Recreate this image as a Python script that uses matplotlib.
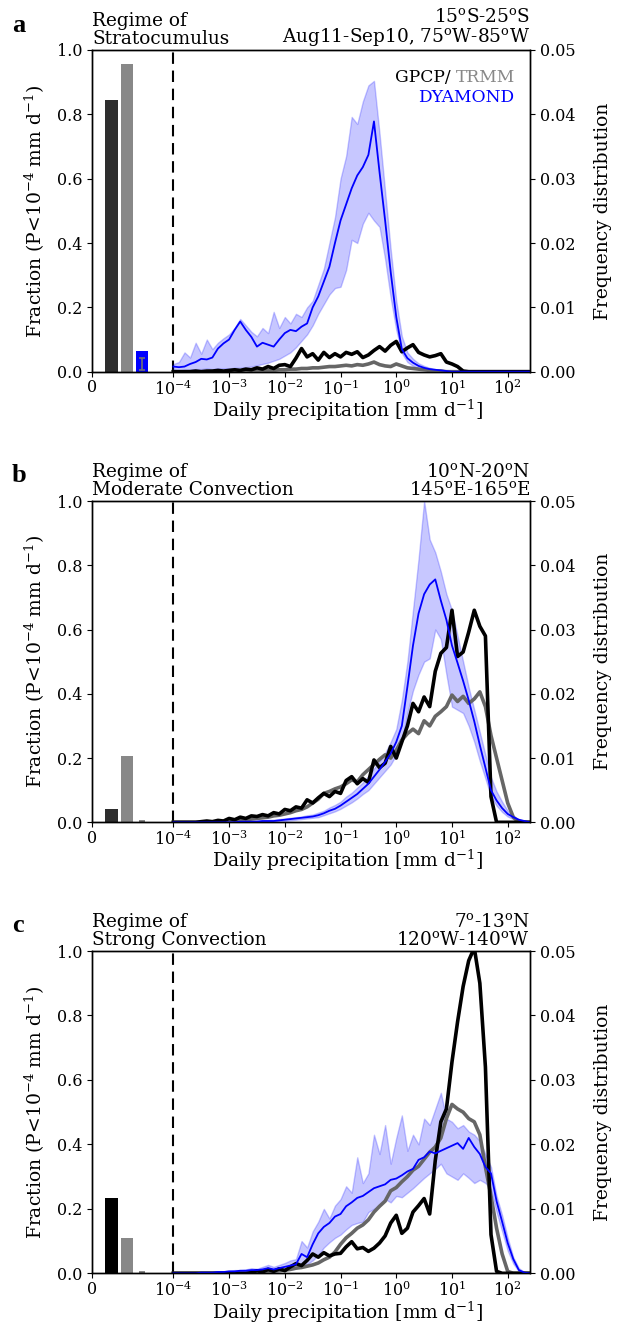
import numpy as np
import matplotlib
matplotlib.use("Agg")
import matplotlib.pyplot as plt
from matplotlib.ticker import FormatStrFormatter

plt.rcParams.update({
    "font.family": "DejaVu Serif",
    "mathtext.fontset": "dejavuserif",
    "font.size": 11.5,
    "axes.linewidth": 1.0,
    "xtick.labelsize": 11.5,
    "ytick.labelsize": 11.5,
})

# log10 of daily precipitation (mm/d): bin centres of the frequency distributions
LOG_P = np.linspace(-4.0, 2.4, 65)

# ---- (a) Stratocumulus regime -------------------------------------------
GPCP_A = [0, 0, 0, 0, 0.0001, 0, 0.0001, 0.0001, 0.0002, 0.0001,
          0.0002, 0.0003, 0.0002, 0.0004, 0.0003, 0.0006, 0.0004, 0.0008, 0.0005, 0.0010,
          0.0011, 0.0008, 0.0021, 0.0036, 0.0023, 0.0028, 0.0018, 0.0030, 0.0022, 0.0028,
          0.0023, 0.0030, 0.0027, 0.0031, 0.0022, 0.0026, 0.0033, 0.0039, 0.0032, 0.0041,
          0.0047, 0.0031, 0.0037, 0.0042, 0.0030, 0.0026, 0.0023, 0.0025, 0.0028, 0.0015,
          0.0012, 0.0008, 0.0001, 0, 0, 0, 0, 0, 0, 0,
          0, 0, 0, 0, 0]
TRMM_A = [0, 0, 0, 0, 0, 0, 0, 0, 0, 0,
          0, 0, 0, 0, 0, 0.0001, 0.0001, 0.0002, 0.0002, 0.0003,
          0.0003, 0.0004, 0.0004, 0.0005, 0.0005, 0.0006, 0.0006, 0.0007, 0.0008, 0.0008,
          0.0009, 0.0010, 0.0009, 0.0011, 0.0010, 0.0012, 0.0015, 0.0011, 0.0009, 0.0008,
          0.0012, 0.0009, 0.0006, 0.0005, 0.0004, 0.0003, 0.0002, 0.0001, 0.0001, 0,
          0, 0, 0, 0, 0, 0, 0, 0, 0, 0,
          0, 0, 0, 0, 0]
DYAMOND_A = [0.0008, 0.0007, 0.0008, 0.0012, 0.0015, 0.0020, 0.0019, 0.0022, 0.0036, 0.0044,
             0.0050, 0.0065, 0.0078, 0.0065, 0.0054, 0.0039, 0.0045, 0.0042, 0.0039, 0.0050,
             0.0060, 0.0065, 0.0063, 0.0070, 0.0075, 0.0100, 0.0117, 0.0140, 0.0163, 0.0200,
             0.0235, 0.0260, 0.0285, 0.0305, 0.0318, 0.0337, 0.0389, 0.0310, 0.0235, 0.0155,
             0.0085, 0.0035, 0.0021, 0.0014, 0.0009, 0.0006, 0.0004, 0.0003, 0.0002, 0.0001,
             0, 0, 0, 0, 0, 0, 0, 0, 0, 0,
             0, 0, 0, 0, 0]
DYAMOND_A_HI = [0.0012, 0.0015, 0.0030, 0.0022, 0.0045, 0.0028, 0.0050, 0.0035, 0.0045, 0.0052,
                0.0058, 0.0068, 0.0082, 0.0072, 0.0062, 0.0055, 0.0068, 0.0060, 0.0093, 0.0068,
                0.0085, 0.0075, 0.0090, 0.0085, 0.0100, 0.0110, 0.0135, 0.0160, 0.0200, 0.0240,
                0.0300, 0.0335, 0.0396, 0.0385, 0.0420, 0.0445, 0.0452, 0.0370, 0.0280, 0.0190,
                0.0110, 0.0055, 0.0030, 0.0020, 0.0013, 0.0009, 0.0006, 0.0004, 0.0003, 0.0002,
                0, 0, 0, 0, 0, 0, 0, 0, 0, 0,
                0, 0, 0, 0, 0]
DYAMOND_A_LO = [0.0003, 0.0002, 0.0003, 0.0003, 0.0004, 0.0004, 0.0005, 0.0004, 0.0005, 0.0005,
                0.0005, 0.0006, 0.0006, 0.0007, 0.0008, 0.0010, 0.0012, 0.0014, 0.0017, 0.0020,
                0.0025, 0.0030, 0.0038, 0.0048, 0.0058, 0.0072, 0.0090, 0.0105, 0.0120, 0.0130,
                0.0132, 0.0158, 0.0205, 0.0200, 0.0230, 0.0247, 0.0235, 0.0225, 0.0175, 0.0115,
                0.0065, 0.0029, 0.0015, 0.0009, 0.0005, 0.0003, 0.0002, 0.0001, 0.0001, 0,
                0, 0, 0, 0, 0, 0, 0, 0, 0, 0,
                0, 0, 0, 0, 0]

# ---- (b) Moderate convection regime --------------------------------------
GPCP_B = [0, 0, 0, 0, 0, 0.0001, 0.0002, 0.0001, 0.0003, 0.0002,
          0.0006, 0.0004, 0.0008, 0.0006, 0.0010, 0.0009, 0.0012, 0.0010, 0.0015, 0.0013,
          0.0020, 0.0018, 0.0024, 0.0022, 0.0035, 0.0030, 0.0038, 0.0045, 0.0040, 0.0048,
          0.0045, 0.0065, 0.0071, 0.0060, 0.0068, 0.0062, 0.0097, 0.0085, 0.0092, 0.0118,
          0.0100, 0.0125, 0.0150, 0.0185, 0.0172, 0.0195, 0.0180, 0.0235, 0.0263, 0.0272,
          0.0330, 0.0258, 0.0265, 0.0296, 0.0330, 0.0305, 0.0290, 0.0040, 0, 0,
          0, 0, 0, 0, 0]
TRMM_B = [0, 0, 0, 0, 0, 0, 0, 0, 0.0001, 0.0001,
          0.0002, 0.0002, 0.0003, 0.0004, 0.0005, 0.0006, 0.0007, 0.0008, 0.0010, 0.0011,
          0.0013, 0.0015, 0.0018, 0.0020, 0.0024, 0.0030, 0.0036, 0.0045, 0.0048, 0.0052,
          0.0055, 0.0060, 0.0066, 0.0063, 0.0074, 0.0082, 0.0090, 0.0098, 0.0105, 0.0100,
          0.0112, 0.0128, 0.0138, 0.0145, 0.0138, 0.0158, 0.0150, 0.0165, 0.0172, 0.0180,
          0.0198, 0.0188, 0.0196, 0.0185, 0.0192, 0.0203, 0.0180, 0.0135, 0.0100, 0.0065,
          0.0030, 0.0008, 0, 0, 0]
DYAMOND_B = [0, 0, 0, 0, 0, 0, 0, 0, 0, 0,
             0, 0, 0.0001, 0.0001, 0.0001, 0.0001, 0.0002, 0.0002, 0.0002, 0.0003,
             0.0004, 0.0005, 0.0006, 0.0007, 0.0008, 0.0009, 0.0011, 0.0014, 0.0018, 0.0021,
             0.0026, 0.0032, 0.0038, 0.0044, 0.0052, 0.0060, 0.0071, 0.0082, 0.0094, 0.0107,
             0.0125, 0.0150, 0.0211, 0.0275, 0.0325, 0.0355, 0.0370, 0.0378, 0.0345, 0.0315,
             0.0275, 0.0248, 0.0220, 0.0190, 0.0157, 0.0120, 0.0085, 0.0050, 0.0034, 0.0022,
             0.0013, 0.0008, 0.0004, 0.0002, 0]
DYAMOND_B_HI = [0, 0, 0, 0, 0, 0, 0, 0, 0, 0,
                0.0001, 0.0001, 0.0002, 0.0002, 0.0002, 0.0003, 0.0003, 0.0004, 0.0004, 0.0005,
                0.0006, 0.0007, 0.0008, 0.0009, 0.0011, 0.0012, 0.0015, 0.0018, 0.0023, 0.0027,
                0.0032, 0.0040, 0.0046, 0.0054, 0.0062, 0.0072, 0.0084, 0.0095, 0.0108, 0.0125,
                0.0145, 0.0190, 0.0250, 0.0330, 0.0410, 0.0500, 0.0440, 0.0420, 0.0390, 0.0355,
                0.0330, 0.0290, 0.0250, 0.0210, 0.0175, 0.0140, 0.0105, 0.0070, 0.0048, 0.0032,
                0.0018, 0.0010, 0.0005, 0.0002, 0]
DYAMOND_B_LO = [0, 0, 0, 0, 0, 0, 0, 0, 0, 0,
                0, 0, 0, 0.0001, 0.0001, 0.0001, 0.0001, 0.0001, 0.0001, 0.0002,
                0.0002, 0.0003, 0.0004, 0.0005, 0.0006, 0.0007, 0.0008, 0.0011, 0.0014, 0.0017,
                0.0021, 0.0026, 0.0031, 0.0037, 0.0044, 0.0050, 0.0060, 0.0070, 0.0080, 0.0090,
                0.0105, 0.0125, 0.0170, 0.0205, 0.0230, 0.0250, 0.0255, 0.0300, 0.0285, 0.0230,
                0.0180, 0.0175, 0.0170, 0.0150, 0.0125, 0.0095, 0.0068, 0.0040, 0.0026, 0.0016,
                0.0009, 0.0005, 0.0002, 0.0001, 0]

# ---- (c) Strong convection regime ----------------------------------------
GPCP_C = [0, 0, 0, 0, 0, 0, 0, 0, 0, 0,
          0, 0, 0, 0, 0.0001, 0.0004, 0.0002, 0.0006, 0.0003, 0.0007,
          0.0004, 0.0010, 0.0015, 0.0012, 0.0020, 0.0030, 0.0025, 0.0032, 0.0027, 0.0030,
          0.0031, 0.0041, 0.0049, 0.0038, 0.0040, 0.0034, 0.0039, 0.0047, 0.0058, 0.0078,
          0.0090, 0.0062, 0.0070, 0.0095, 0.0105, 0.0116, 0.0092, 0.0175, 0.0235, 0.0255,
          0.0328, 0.0390, 0.0445, 0.0485, 0.0505, 0.0450, 0.0320, 0.0060, 0.0003, 0,
          0, 0, 0, 0, 0]
TRMM_C = [0, 0, 0, 0, 0, 0, 0, 0, 0, 0,
          0, 0, 0, 0, 0.0001, 0.0002, 0.0002, 0.0003, 0.0003, 0.0004,
          0.0005, 0.0006, 0.0008, 0.0009, 0.0011, 0.0013, 0.0016, 0.0021, 0.0025, 0.0033,
          0.0045, 0.0055, 0.0062, 0.0070, 0.0075, 0.0083, 0.0095, 0.0104, 0.0112, 0.0128,
          0.0133, 0.0142, 0.0150, 0.0160, 0.0166, 0.0177, 0.0188, 0.0196, 0.0210, 0.0240,
          0.0262, 0.0255, 0.0250, 0.0240, 0.0235, 0.0215, 0.0165, 0.0120, 0.0070, 0.0030,
          0.0003, 0, 0, 0, 0]
DYAMOND_C = [0, 0, 0, 0, 0, 0.0001, 0.0001, 0.0001, 0.0002, 0.0002,
             0.0003, 0.0003, 0.0004, 0.0004, 0.0005, 0.0005, 0.0006, 0.0008, 0.0006, 0.0008,
             0.0010, 0.0012, 0.0014, 0.0030, 0.0025, 0.0045, 0.0062, 0.0072, 0.0078, 0.0088,
             0.0092, 0.0104, 0.0110, 0.0117, 0.0120, 0.0126, 0.0132, 0.0135, 0.0138, 0.0145,
             0.0147, 0.0152, 0.0158, 0.0162, 0.0176, 0.0180, 0.0189, 0.0186, 0.0190, 0.0194,
             0.0198, 0.0202, 0.0193, 0.0210, 0.0196, 0.0185, 0.0165, 0.0155, 0.0112, 0.0080,
             0.0047, 0.0022, 0.0005, 0.0001, 0]
DYAMOND_C_HI = [0.0001, 0.0001, 0.0001, 0.0001, 0.0001, 0.0002, 0.0002, 0.0002, 0.0003, 0.0003,
                0.0004, 0.0005, 0.0005, 0.0006, 0.0008, 0.0007, 0.0010, 0.0013, 0.0010, 0.0013,
                0.0016, 0.0020, 0.0022, 0.0050, 0.0040, 0.0065, 0.0080, 0.0100, 0.0085, 0.0105,
                0.0115, 0.0135, 0.0125, 0.0180, 0.0140, 0.0155, 0.0215, 0.0185, 0.0230, 0.0170,
                0.0210, 0.0245, 0.0190, 0.0215, 0.0200, 0.0240, 0.0230, 0.0255, 0.0280, 0.0240,
                0.0235, 0.0225, 0.0230, 0.0220, 0.0215, 0.0205, 0.0185, 0.0165, 0.0120, 0.0090,
                0.0055, 0.0025, 0.0008, 0.0002, 0]
DYAMOND_C_LO = [0, 0, 0, 0, 0, 0, 0, 0, 0, 0,
                0.0001, 0.0001, 0.0002, 0.0002, 0.0002, 0.0003, 0.0003, 0.0004, 0.0003, 0.0004,
                0.0005, 0.0006, 0.0007, 0.0012, 0.0014, 0.0020, 0.0028, 0.0040, 0.0048, 0.0055,
                0.0060, 0.0068, 0.0075, 0.0078, 0.0080, 0.0095, 0.0100, 0.0105, 0.0115, 0.0110,
                0.0120, 0.0118, 0.0125, 0.0132, 0.0140, 0.0148, 0.0155, 0.0162, 0.0170, 0.0155,
                0.0150, 0.0145, 0.0155, 0.0148, 0.0140, 0.0145, 0.0140, 0.0130, 0.0095, 0.0065,
                0.0035, 0.0015, 0.0003, 0, 0]

# Fraction of dry days (P < 1e-4 mm/d) for panels a, b, c
GPCP_DRY = [0.845, 0.040, 0.235]
TRMM_DRY = [0.955, 0.205, 0.108]
DYAMOND_DRY = [0.065, 0.002, 0.002]
DYAMOND_DRY_LO = [0.005, 0.000, 0.000]
DYAMOND_DRY_HI = [0.042, 0.004, 0.005]

PANEL_LETTERS = ["a", "b", "c"]
REGIME_TITLES = ["Regime of\nStratocumulus",
                 "Regime of\nModerate Convection",
                 "Regime of\nStrong Convection"]
REGION_TITLES = [r"15$^{\rm o}$S-25$^{\rm o}$S" "\n" r"Aug11-Sep10, 75$^{\rm o}$W-85$^{\rm o}$W",
                 r"10$^{\rm o}$N-20$^{\rm o}$N" "\n" r"145$^{\rm o}$E-165$^{\rm o}$E",
                 r"7$^{\rm o}$-13$^{\rm o}$N" "\n" r"120$^{\rm o}$W-140$^{\rm o}$W"]

panels = [
    (GPCP_A, TRMM_A, DYAMOND_A, DYAMOND_A_LO, DYAMOND_A_HI),
    (GPCP_B, TRMM_B, DYAMOND_B, DYAMOND_B_LO, DYAMOND_B_HI),
    (GPCP_C, TRMM_C, DYAMOND_C, DYAMOND_C_LO, DYAMOND_C_HI),
]

# ---- layout ---------------------------------------------------------------
W, H = 621, 1324
fig = plt.figure(figsize=(W / 100, H / 100), dpi=100)
AX_LEFT, AX_RIGHT = 92, 530
AX_ROWS = [(50, 371.7), (501, 822.3), (951, 1273.3)]
LETTER_Y = [25, 475, 926]
XMIN, XMAX = -5.46, 2.4
BAR_X = [-5.11, -4.835, -4.56]
BAR_W = 0.22
GPCP_BAR_COLORS = ["#2e2e2e", "#2e2e2e", "#000000"]
LABEL_FS = 13.5
TITLE_FS = 13.3

for k, (gpcp, trmm, dya, dya_lo, dya_hi) in enumerate(panels):
    top, bot = AX_ROWS[k]
    ax = fig.add_axes([AX_LEFT / W, 1 - bot / H, (AX_RIGHT - AX_LEFT) / W, (bot - top) / H])
    ax2 = ax.twinx()

    # dry-day fractions as bars on the left axis
    ax.bar(BAR_X[0], GPCP_DRY[k], width=BAR_W, color=GPCP_BAR_COLORS[k])
    ax.bar(BAR_X[1], TRMM_DRY[k], width=BAR_W, color="#888888")
    ax.bar(BAR_X[2], DYAMOND_DRY[k], width=BAR_W, color="blue")
    ax.vlines(BAR_X[2], DYAMOND_DRY_LO[k], DYAMOND_DRY_HI[k], color="0.45", lw=1.2)
    ax.hlines([DYAMOND_DRY_LO[k], DYAMOND_DRY_HI[k]], BAR_X[2] - 0.05, BAR_X[2] + 0.05,
              color="0.45", lw=1.2)
    ax.axvline(-4, color="black", lw=1.5, ls=(0, (5.5, 3.2)))

    ax.set_xlim(XMIN, XMAX)
    ax.set_ylim(0, 1)
    ax.set_yticks(np.arange(0, 1.01, 0.2))
    ax.yaxis.set_major_formatter(FormatStrFormatter("%.1f"))
    ax.set_xticks([XMIN, -4, -3, -2, -1, 0, 1, 2])
    ax.set_xticklabels(["0"] + [r"$10^{%d}$" % e for e in range(-4, 3)])
    ax.tick_params(axis="x", pad=2)
    ax.set_ylabel(r"Fraction (P<10$^{-4}$ mm d$^{-1}$)", fontsize=LABEL_FS, va="center")
    ax.yaxis.set_label_coords(-0.130, 0.5)
    ax.set_xlabel(r"Daily precipitation [mm d$^{-1}$]", fontsize=LABEL_FS, va="center")
    ax.xaxis.set_label_coords(0.584, -0.12)

    # frequency distributions on the right axis
    ax2.fill_between(LOG_P, dya_lo, dya_hi, color="blue", alpha=0.22, lw=1.0)
    ax2.plot(LOG_P, trmm, color="#666666", lw=2.6)
    ax2.plot(LOG_P, gpcp, color="black", lw=2.6)
    ax2.plot(LOG_P, dya, color="blue", lw=1.3)
    ax2.set_ylim(0, 0.05)
    ax2.set_yticks(np.arange(0, 0.051, 0.01))
    ax2.yaxis.set_major_formatter(FormatStrFormatter("%.2f"))
    ax2.set_ylabel("Frequency distribution", fontsize=LABEL_FS, va="center")
    ax2.yaxis.set_label_coords(1.167, 0.5)

    ax.text(0, 1.006, REGIME_TITLES[k], transform=ax.transAxes, ha="left", va="bottom",
            fontsize=TITLE_FS, linespacing=1.0)
    ax.text(1, 1.006, REGION_TITLES[k], transform=ax.transAxes, ha="right", va="bottom",
            fontsize=TITLE_FS, linespacing=1.0, multialignment="right")
    fig.text(12 / W, 1 - LETTER_Y[k] / H, PANEL_LETTERS[k], fontsize=19, fontweight="bold",
             family="Liberation Serif", ha="left", va="center")

    if k == 0:
        t_trmm = ax2.text(0.966, 0.916, "TRMM", transform=ax2.transAxes, ha="right",
                          va="center", fontsize=12.3, color="#888888")
        ax2.annotate("GPCP/ ", xy=(0, 0), xycoords=t_trmm, ha="right", va="bottom",
                     fontsize=12.3, color="black")
        ax2.text(0.964, 0.851, "DYAMOND", transform=ax2.transAxes, ha="right",
                 va="center", fontsize=12.3, color="blue")

fig.savefig("out.png", dpi=100)
